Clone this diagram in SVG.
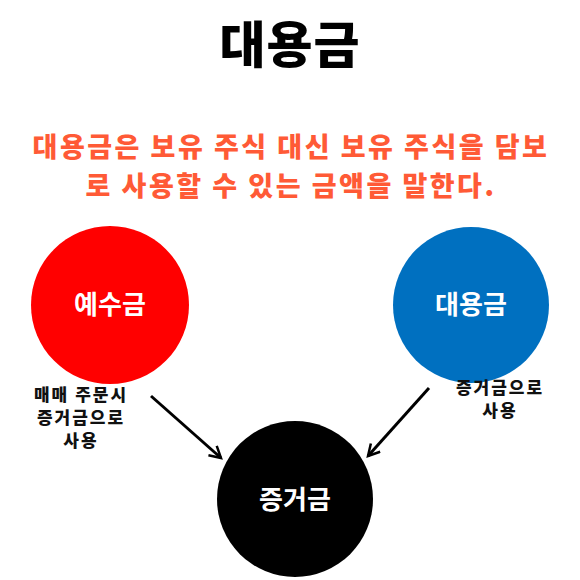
<svg xmlns="http://www.w3.org/2000/svg" width="580" height="580" viewBox="0 0 580 580">
<defs>
<style>
text{font-family:"Noto Sans CJK KR","Noto Sans",sans-serif;text-anchor:middle}
.title{font-size:50px;font-weight:900;fill:#000;letter-spacing:1px}
.sub{font-size:27px;font-weight:900;fill:#FF5A36;letter-spacing:2.5px}
.node{font-size:26px;font-weight:700;fill:#fff}
.lbl{font-size:17px;font-weight:900;fill:#111;letter-spacing:2px}
.conn{stroke:#000;stroke-width:3;fill:none}
</style>
<marker id="ah" viewBox="0 0 12 12" refX="10" refY="6" markerWidth="5" markerHeight="5" orient="auto" markerUnits="strokeWidth">
<path d="M1,1 L10,6 L1,11" fill="none" stroke="#000" stroke-width="2"/>
</marker>
</defs>
<rect width="580" height="580" fill="#fff"/>
<text class="title" x="290" y="63">대용금</text>
<text class="sub" x="291" y="157">대용금은 보유 주식 대신 보유 주식을 담보</text>
<text class="sub" x="291" y="196">로 사용할 수 있는 금액을 말한다.</text>
<g id="connectors">
<line class="conn" x1="151" y1="396" x2="221" y2="458" marker-end="url(#ah)"/>
<line class="conn" x1="429" y1="388" x2="368" y2="456" marker-end="url(#ah)"/>
</g>
<g id="node-yesugeum">
<circle cx="110" cy="305" r="79" fill="#FF0000"/>
<text class="node" x="110" y="314">예수금</text>
</g>
<g id="node-daeyonggeum">
<circle cx="471" cy="305" r="78" fill="#0070C0"/>
<text class="node" x="471" y="314">대용금</text>
</g>
<g id="node-jeunggeogeum">
<circle cx="295" cy="499" r="78" fill="#000"/>
<text class="node" x="295" y="509">증거금</text>
</g>
<g id="label-left">
<text class="lbl" x="81" y="401">매매 주문시</text>
<text class="lbl" x="81" y="424">증거금으로</text>
<text class="lbl" x="81" y="447">사용</text>
</g>
<g id="label-right">
<text class="lbl" x="500" y="394">증거금으로</text>
<text class="lbl" x="500" y="417">사용</text>
</g>
</svg>
